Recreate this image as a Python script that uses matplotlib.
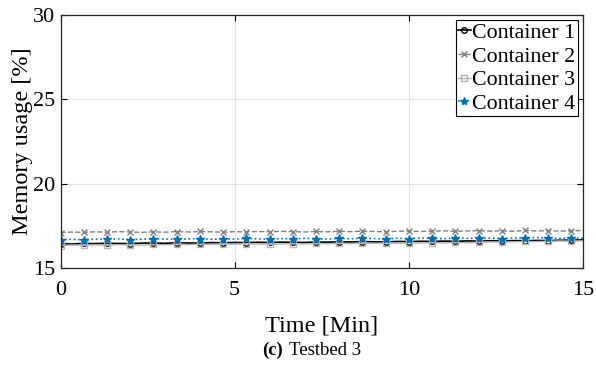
import numpy as np
import matplotlib
matplotlib.use('Agg')
import matplotlib.pyplot as plt

# time axis in minutes, sampled every 20 s
t = np.linspace(0, 15, 46)

c1 = [16.45, 16.44, 16.47, 16.46, 16.48, 16.47, 16.46, 16.49, 16.50, 16.48, 16.51, 16.50,
      16.49, 16.52, 16.51, 16.53, 16.52, 16.54, 16.53, 16.55, 16.54, 16.53, 16.56, 16.55,
      16.57, 16.56, 16.58, 16.57, 16.56, 16.59, 16.58, 16.60, 16.59, 16.61, 16.60, 16.62,
      16.61, 16.63, 16.62, 16.64, 16.63, 16.65, 16.64, 16.66, 16.67, 16.68]
c2 = [17.12, 17.15, 17.13, 17.16, 17.14, 17.17, 17.15, 17.13, 17.16, 17.14, 17.17, 17.15,
      17.18, 17.16, 17.14, 17.17, 17.15, 17.18, 17.16, 17.19, 17.17, 17.15, 17.18, 17.16,
      17.19, 17.17, 17.20, 17.18, 17.16, 17.19, 17.21, 17.18, 17.20, 17.22, 17.19, 17.21,
      17.23, 17.20, 17.22, 17.19, 17.24, 17.21, 17.23, 17.20, 17.22, 17.24]
c3 = [16.35, 16.38, 16.36, 16.39, 16.37, 16.40, 16.38, 16.36, 16.41, 16.39, 16.42, 16.40,
      16.43, 16.41, 16.44, 16.42, 16.45, 16.43, 16.41, 16.44, 16.46, 16.44, 16.47, 16.45,
      16.48, 16.46, 16.49, 16.47, 16.50, 16.48, 16.51, 16.49, 16.52, 16.50, 16.53, 16.51,
      16.54, 16.56, 16.55, 16.57, 16.59, 16.58, 16.60, 16.62, 16.61, 16.63]
c4 = [16.70, 16.72, 16.69, 16.73, 16.71, 16.74, 16.70, 16.72, 16.75, 16.73, 16.71, 16.74,
      16.76, 16.72, 16.75, 16.73, 16.77, 16.74, 16.72, 16.76, 16.74, 16.78, 16.75, 16.73,
      16.77, 16.75, 16.79, 16.76, 16.74, 16.78, 16.76, 16.80, 16.77, 16.75, 16.79, 16.77,
      16.81, 16.78, 16.76, 16.80, 16.78, 16.82, 16.79, 16.77, 16.80, 16.78]
labels = ['Container 1', 'Container 2', 'Container 3', 'Container 4']

plt.rcParams['font.family'] = ['Liberation Serif', 'DejaVu Serif']

fig = plt.figure(figsize=(5.96, 3.65), dpi=100)
# axes box in pixels: left 60.5, right 583, top 15, bottom 268.3
ax = fig.add_axes([60.5 / 596, (365 - 268.3) / 365, (583 - 60.5) / 596, (268.3 - 15) / 365])

me = range(0, 46, 2)
ax.plot(t, c1, '-', color='black', lw=1.2, marker='o', ms=4, mfc='none', mec='black',
        markevery=me, label=labels[0])
ax.plot(t, c2, '--', color='#808080', lw=1.0, marker='x', ms=4, mec='#808080',
        markevery=me, label=labels[1])
ax.plot(t, c3, '-', color='#b3b3b3', lw=1.0, marker='s', ms=4, mfc='none', mec='#b3b3b3',
        markevery=me, label=labels[2])
ax.plot(t, c4, ':', color='#0072BD', lw=1.2, marker='*', ms=6, mec='#0072BD', mfc='#0072BD',
        markevery=me, label=labels[3])

ax.set_xlim(0, 15)
ax.set_ylim(15, 30)
ax.set_xticks([0, 5, 10, 15])
ax.set_yticks([15, 20, 25, 30])
ax.grid(True, color='#e3e3e3', lw=0.8)
ax.set_axisbelow(True)
ax.tick_params(direction='in', length=4, width=0.8, labelsize=16, top=True, right=True)
ax.tick_params(axis='x', pad=9)
ax.tick_params(axis='y', pad=4)
for s in ax.spines.values():
    s.set_color('#262626')
    s.set_linewidth(0.9)

ax.set_xlabel('Time [Min]', fontsize=17.5, labelpad=11)
ax.set_ylabel('Memory usage [%]', fontsize=17.5, labelpad=0)

leg = ax.legend(loc='upper right', fontsize=15.8, borderaxespad=0.25, handlelength=0.6,
                handletextpad=0.05, borderpad=0.1, labelspacing=0.15, fancybox=False,
                framealpha=1)
leg.get_frame().set_edgecolor('black')
leg.get_frame().set_linewidth(0.8)

fig.text(0.44, 0.041, '(c)', fontsize=13.5, fontweight='bold', ha='left', va='center')
fig.text(0.44 + 27 / 596, 0.041, 'Testbed 3', fontsize=13.5, ha='left', va='center')

fig.savefig('out.png', dpi=100)
